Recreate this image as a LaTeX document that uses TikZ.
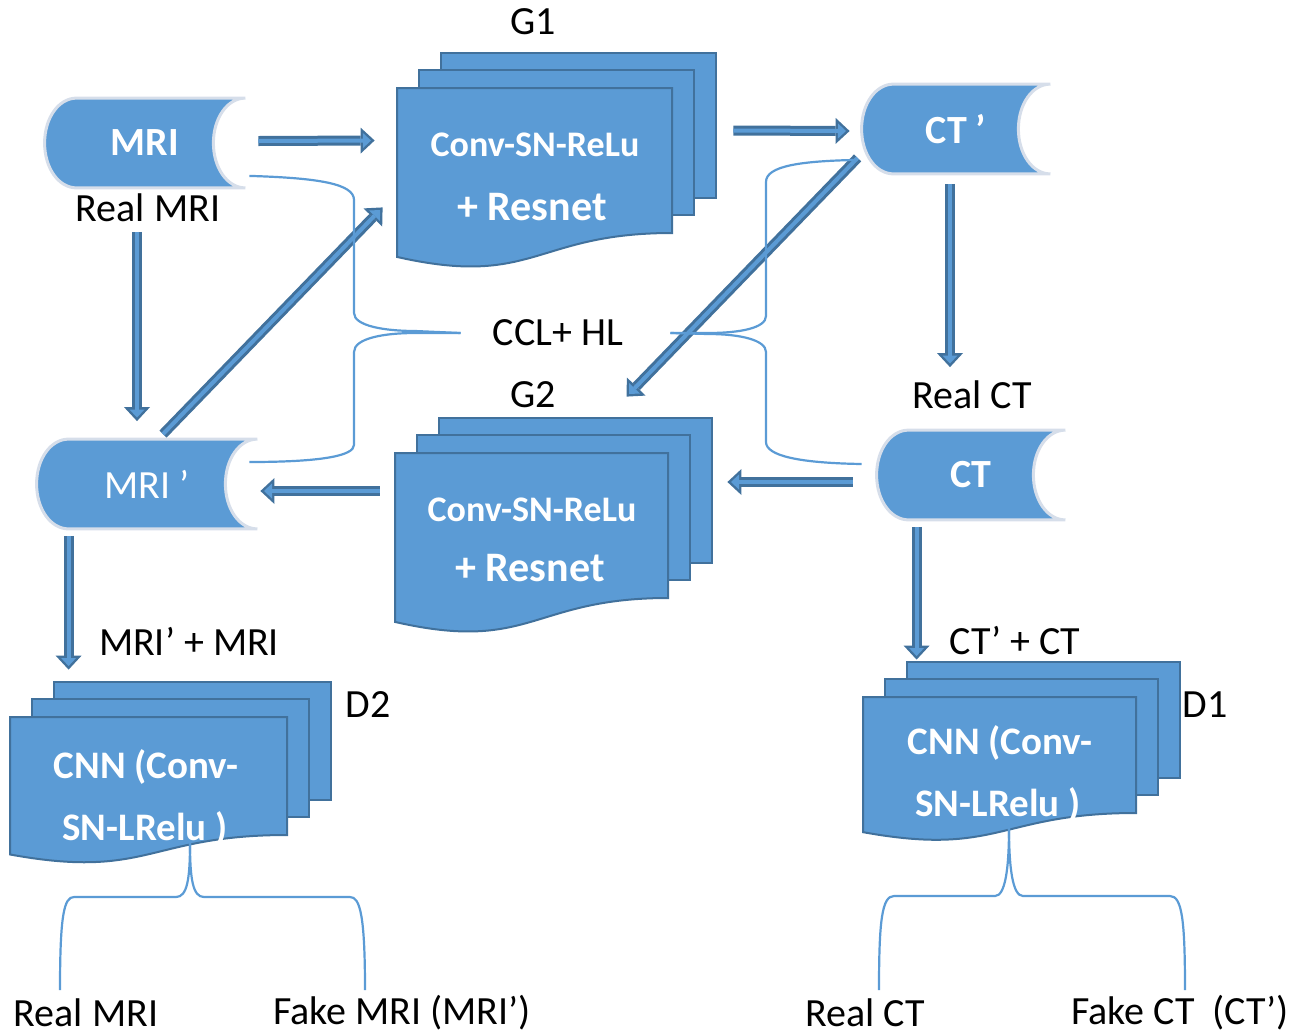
\documentclass[tikz,border=0pt]{standalone}
\usepackage{fontspec}
\setmainfont{Carlito}
\usetikzlibrary{arrows.meta, calc, backgrounds}
\definecolor{boxBlue}{RGB}{91,155,213}
\definecolor{edgeBlue}{RGB}{65,113,156}
\definecolor{rimGray}{RGB}{214,222,234}

% stored-data shape: name, x, y, width (px), label
\newcommand{\datanode}[5]{%
  \node[datatext, minimum width={#4*0.5pt}] (#1) at (#2,#3) {#5};
  \begin{pgfonlayer}{background}
  \draw[datashape] ($(#1.north west)+(32,0)$) -- (#1.north east)
    .. controls +(-18,0) and +(0,-25) .. ($(#1.east)+(-32,0)$)
    .. controls +(0,25) and +(-18,0) .. (#1.south east)
    -- ($(#1.south west)+(32,0)$)
    .. controls +(-18,0) and +(0,25) .. (#1.west)
    .. controls +(0,-25) and +(-18,0) .. ($(#1.north west)+(32,0)$) -- cycle;
  \end{pgfonlayer}}

% stack of three sheets: name, x, y, width, height of the front sheet (px)
\newcommand{\docstack}[5]{%
  \foreach \dx/\dy in {44/-35, 22/-18}
    \draw[sheet] ({#2+\dx},{#3+(\dy)}) rectangle ({#2+\dx+#4},{#3+(\dy)+#5});
  \draw[sheet] (#2,#3) -- ({#2+#4},#3) -- ({#2+#4},{#3+#5})
    .. controls ({#2+0.5*#4},{#3+#5}) and ({#2+0.5*#4},{#3+1.38*#5}) .. (#2,{#3+1.165*#5}) -- cycle;
  \node[inner sep=0pt, minimum width={#4*0.5pt}, minimum height={#5*0.5pt}] (#1) at ({#2+#4/2},{#3+#5/2}) {};}

\begin{document}
\begin{tikzpicture}[x=0.5pt, y=-0.5pt,
    lbl/.style={font=\fontsize{20}{24}\selectfont, inner sep=0pt},
    datatext/.style={inner sep=0pt, minimum height=44.5pt, text=white, font=\fontsize{20}{24}\selectfont\bfseries},
    datashape/.style={fill=boxBlue, draw=rimGray, line width=1.5pt},
    sheet/.style={fill=boxBlue, draw=edgeBlue, line width=1pt},
    sheettext/.style={inner sep=0pt, text=white, font=\fontsize{18}{22}\selectfont\bfseries},
    flow/.style={draw=edgeBlue, line width=5pt, -{Triangle[length=7pt,width=13pt,line width=0pt]},
      postaction={draw=boxBlue, line width=2pt, -{Triangle[length=4pt,width=7.5pt,line width=0pt]}, shorten >=1.8pt}},
    brace/.style={draw=boxBlue, line width=1.1pt}]
\useasboundingbox (0,0) rectangle (1302,1034);

\datanode{mri}{145}{143}{200}{MRI}
\datanode{ctp}{956}{129}{188}{CT ’}
\datanode{ct}{971}{475}{188}{CT}
\datanode{mrip}{147}{484}{220}{\mdseries MRI ’}

\docstack{g1}{397}{88}{275}{145}
\docstack{g2}{395}{453}{273}{145}
\docstack{d2}{10}{717}{277}{118}
\docstack{d1}{863}{697}{273}{116}

% text on the sheets
\node[sheettext] (g1a) at (535,145) {Conv-SN-ReLu};
\node[sheettext, font=\fontsize{21}{25}\selectfont\bfseries] (g1b) at (532,207) {+ Resnet};
\node[sheettext] (g2a) at (532,510) {Conv-SN-ReLu};
\node[sheettext, font=\fontsize{21}{25}\selectfont\bfseries] (g2b) at (530,568) {+ Resnet};
\node[sheettext, font=\fontsize{19.5}{23}\selectfont\bfseries] (d2a) at (146,767) {CNN (Conv-};
\node[sheettext, font=\fontsize{19.5}{23}\selectfont\bfseries] (d2b) at (145,829) {SN-LRelu )};
\node[sheettext, font=\fontsize{19.5}{23}\selectfont\bfseries] (d1a) at (1000,743) {CNN (Conv-};
\node[sheettext, font=\fontsize{19.5}{23}\selectfont\bfseries] (d1b) at (998,805) {SN-LRelu )};

% labels
\node[lbl] (g1lbl) at (533,22) {G1};
\node[lbl] (g2lbl) at (533,395) {G2};
\node[lbl] (d2lbl) at (368,705) {D2};
\node[lbl] (d1lbl) at (1205,705) {D1};
\node[lbl] (realmri) at (148,208) {Real MRI};
\node[lbl] (realct) at (972,395) {Real CT};
\node[lbl] (ccl) at (558,333) {CCL+ HL};
\node[lbl] (mrisum) at (189,641) {MRI’ + MRI};
\node[lbl] (ctsum) at (1015,641) {CT’ + CT};
\node[lbl] (outmri1) at (86,1013) {Real MRI};
\node[lbl] (outmri2) at (402,1013) {Fake MRI (MRI’)};
\node[lbl] (outct1) at (865,1013) {Real CT};
\node[lbl] (outct2) at (1180,1013) {Fake CT~~(CT’)};

% arrows
\draw[flow] ($(mri.east)+(13,-2)$) -- ($(g1.west)+(-22,-20)$);
\draw[flow] ($(g1.east)+(61,-30)$) -- ($(ctp.west)+(-12,2)$);
\draw[flow] ($(mri.south)+(-8,44)$) -- ($(mrip.north)+(-10,-18)$);
\draw[flow] ($(mrip.north)+(16,-5)$) -- ($(g1.south west)+(-14,-26)$);
\draw[flow] ($(ctp.south west)+(-4,-16)$) -- ($(g2.north)+(95,-56)$);
\draw[flow] ($(ctp.south)+(-6,10)$) -- ($(ct.north)+(-21,-63)$);
\draw[flow] ($(ct.west)+(-24,7)$) -- ($(g2.east)+(59,-43.5)$);
\draw[flow] ($(g2.west)+(-15,-34.5)$) -- ($(mrip.east)+(3,7)$);
\draw[flow] ($(mrip.south west)+(32,7)$) -- ($(d2.north west)+(59,-47)$);
\draw[flow] ($(ct.south west)+(40,7)$) -- ($(d1.north west)+(54,-37)$);

% CCL + HL braces
\coordinate (ccl-l) at ($(ccl.west)+(-32,0)$);
\coordinate (ccl-r) at ($(ccl.east)+(47,0)$);
\draw[brace] ($(mri.south east)+(4,-12)$) .. controls (320,178) and (354,184) .. (354,200)
  -- (354,313) .. controls (354,326) and (385,331) .. (415,331) -- (ccl-l);
\draw[brace] (ccl-l) -- (415,333) .. controls (385,333) and (354,338) .. (354,352)
  -- (354,445) .. controls (354,456) and (320,462) .. ($(mrip.east)+(-8,-22)$);
\draw[brace] ($(ctp.south west)+(-4,-14)$) .. controls (800,161) and (766,166) .. (766,182)
  -- (766,316) .. controls (766,328) and (740,333) .. (708,333) -- (ccl-r);
\draw[brace] (ccl-r) -- (708,334) .. controls (740,334) and (766,340) .. (766,352)
  -- (766,442) .. controls (766,456) and (800,463) .. ($(ct.west)+(-15,-11)$);

% discriminator outputs
\coordinate (d2-tip) at (190,843);
\coordinate (d1-tip) at (1009,828);
\draw[brace] (d2-tip) .. controls (190,880) and (187,897) .. (176,897) -- (74,897)
  .. controls (64,897) and (60,915) .. (60,990);
\draw[brace] (d2-tip) .. controls (190,880) and (193,897) .. (204,897) -- (350,897)
  .. controls (360,897) and (365,915) .. (365,990);
\draw[brace] (d1-tip) .. controls (1009,870) and (1005,896) .. (995,896) -- (894,896)
  .. controls (882,896) and (879,920) .. (879,990);
\draw[brace] (d1-tip) .. controls (1009,870) and (1013,896) .. (1023,896) -- (1170,896)
  .. controls (1182,896) and (1185,920) .. (1185,990);
\end{tikzpicture}
\end{document}
